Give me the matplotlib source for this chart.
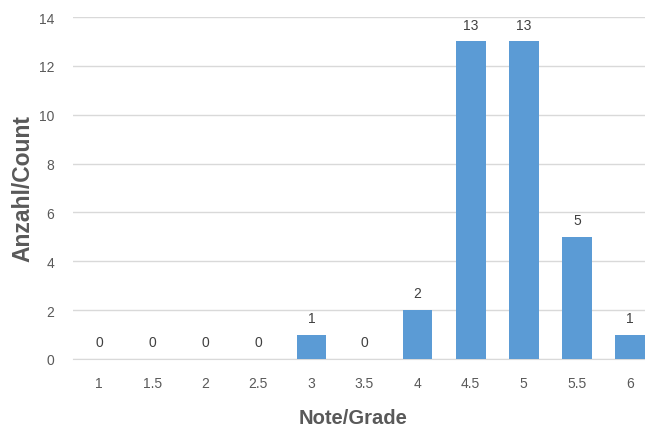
import matplotlib.pyplot as plt

grades = ["1", "1.5", "2", "2.5", "3", "3.5", "4", "4.5", "5", "5.5", "6"]
counts = [0, 0, 0, 0, 1, 0, 2, 13, 13, 5, 1]

plt.rcParams['font.family'] = ['Liberation Sans', 'DejaVu Sans']

fig = plt.figure(figsize=(6.45, 4.27), dpi=100)
ax = fig.add_axes([72.5 / 645, 67 / 427, 584 / 645, 342 / 427])

x = range(len(grades))
bars = ax.bar(x, counts, width=0.56, color='#5b9bd5', zorder=3)

# value labels above each bar
for bar, c in zip(bars, counts):
    ax.annotate(str(c), xy=(bar.get_x() + bar.get_width() / 2, bar.get_height()),
                xytext=(0, 7), textcoords='offset points',
                ha='center', va='bottom', fontsize=10, color='#404040')

ax.set_xlim(-0.5, len(grades) - 0.5)
ax.set_ylim(0, 14)
ax.set_yticks(range(0, 15, 2))
ax.set_xticks(list(x))
ax.set_xticklabels(grades)
ax.tick_params(length=0, labelsize=10, labelcolor='#595959')
ax.tick_params(axis='x', pad=12)
ax.tick_params(axis='y', pad=13)

ax.grid(axis='y', color='#d9d9d9', linewidth=1, zorder=0)
for s in ['top', 'right', 'left']:
    ax.spines[s].set_visible(False)
ax.spines['bottom'].set_color('#d9d9d9')

ax.set_xlabel('Note/Grade', fontsize=14.5, fontweight='bold', color='#595959', va='top')
ax.xaxis.set_label_coords(0.48, -0.143)
ax.set_ylabel('Anzahl/Count', fontsize=16.5, fontweight='bold', color='#595959')
ax.yaxis.set_label_coords(-0.066, 0.5)

fig.savefig('out.png', dpi=100)
